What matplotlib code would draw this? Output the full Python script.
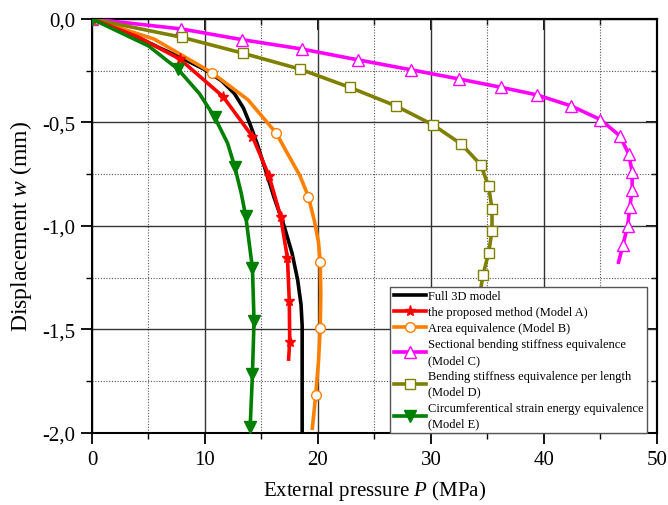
import matplotlib
matplotlib.use('Agg')
import matplotlib.pyplot as plt
from matplotlib.ticker import MultipleLocator, FuncFormatter

plt.rcParams['font.family'] = ['Liberation Serif', 'DejaVu Serif']
plt.rcParams['mathtext.fontset'] = 'custom'
plt.rcParams['mathtext.rm'] = 'Liberation Serif'
plt.rcParams['mathtext.it'] = 'Liberation Serif:italic'

# Full 3D model (no markers)
p_full = [0, 3, 6, 8, 10, 11.5, 12.6, 13.4, 14.0, 14.6, 15.3, 16.1, 17.0, 17.7, 18.2, 18.5, 18.6, 18.6]
w_full = [0, -0.06, -0.14, -0.19, -0.245, -0.30, -0.36, -0.43, -0.51, -0.60, -0.72, -0.86, -1.0, -1.13,
          -1.26, -1.38, -1.48, -2.0]

# Model A
p_a = [0, 4.0, 7.76, 11.6, 14.2, 15.66, 16.7, 17.3, 17.46, 17.5, 17.4]
w_a = [0, -0.085, -0.193, -0.375, -0.568, -0.757, -0.955, -1.156, -1.36, -1.559, -1.643]
mk_a = [0, 2, 3, 4, 5, 6, 7, 8, 9]

# Model B
p_b = [0, 5.5, 10.65, 13.8, 16.3, 17.08, 18.4, 19.15, 19.7, 20.05, 20.2, 20.25, 20.2, 20.05, 19.8, 19.5]
w_b = [0, -0.097, -0.261, -0.39, -0.551, -0.628, -0.757, -0.858, -0.98, -1.08, -1.176, -1.33,
       -1.494, -1.65, -1.816, -1.977]
mk_b = [0, 2, 4, 7, 10, 12, 14]

# Model C
p_c = [0, 7.9, 13.3, 18.56, 23.5, 28.2, 32.5, 36.2, 39.4, 42.4, 45.0, 46.7, 47.5, 47.8, 47.8, 47.6,
       47.4, 47.0, 46.6]
w_c = [0, -0.048, -0.10, -0.145, -0.197, -0.245, -0.29, -0.33, -0.367, -0.42, -0.486, -0.564, -0.652,
       -0.738, -0.825, -0.91, -1.0, -1.09, -1.175]
mk_c = list(range(18))

# Model D
p_d = [0, 8.0, 13.4, 18.4, 22.8, 26.9, 30.2, 32.7, 34.4, 35.1, 35.4, 35.4, 35.1, 34.6, 34.3, 34.1,
       34.0, 33.9, 33.9]
w_d = [0, -0.089, -0.166, -0.242, -0.33, -0.42, -0.512, -0.605, -0.704, -0.808, -0.918, -1.024, -1.13,
       -1.237, -1.34, -1.45, -1.6, -1.8, -1.95]
mk_d = list(range(14))

# Model E
p_e = [0, 5.0, 7.6, 9.5, 10.86, 12.0, 12.65, 13.2, 13.6, 14.2, 14.34, 14.2, 14.0]
w_e = [0, -0.13, -0.242, -0.36, -0.475, -0.6, -0.717, -0.84, -0.95, -1.204, -1.457, -1.715, -1.97]
mk_e = [0, 2, 4, 6, 8, 9, 10, 11, 12]

fig = plt.figure(figsize=(6.68, 5.06), dpi=100)
ax = fig.add_axes([0.1377, 0.1423, 0.8458, 0.8182])

lw = 2.6
ax.plot(p_full, w_full, color='black', lw=lw, label='Full 3D model', zorder=3)
ax.plot(p_a, w_a, color='#ff0000', lw=lw, marker='*', ms=8, markevery=mk_a,
        label='the proposed method (Model A)', zorder=4)
ax.plot(p_b, w_b, color='#ff7f00', lw=lw, marker='o', ms=7, mfc='white', mew=1.0, markevery=mk_b,
        label='Area equivalence (Model B)', zorder=3)
ax.plot(p_c, w_c, color='#ff00ff', lw=lw, marker='^', ms=9, mfc='white', mew=1.0, markevery=mk_c,
        label='Sectional bending stiffness equivalence\n(Model C)', zorder=3)
ax.plot(p_d, w_d, color='#808000', lw=lw, marker='s', ms=6.5, mfc='white', mew=1.0, markevery=mk_d,
        label='Bending stiffness equivalence per length\n(Model D)', zorder=3)
ax.plot(p_e, w_e, color='#008000', lw=lw, marker='v', ms=8, markevery=mk_e,
        label='Circumferentical strain energy equivalence\n(Model E)', zorder=4)

ax.set_xlim(0, 50)
ax.set_ylim(-2.0, 0.0)
ax.xaxis.set_major_locator(MultipleLocator(10))
ax.xaxis.set_minor_locator(MultipleLocator(5))
ax.yaxis.set_major_locator(MultipleLocator(0.5))
ax.yaxis.set_minor_locator(MultipleLocator(0.25))
ax.yaxis.set_major_formatter(FuncFormatter(lambda v, p: ('%.1f' % v).replace('.', ',')))

ax.grid(which='major', color='#333333', lw=1.0, ls='-')
ax.grid(which='minor', color='#555555', lw=0.8, ls=(0, (1, 1.5)))
ax.set_axisbelow(True)

for s in ax.spines.values():
    s.set_linewidth(1.5)
ax.tick_params(which='major', direction='out', length=8, width=1.3, labelsize=15, pad=4)
ax.tick_params(which='minor', direction='out', length=4, width=1.0)

# inward ticks on top and right
top = ax.secondary_xaxis('top')
top.xaxis.set_major_locator(MultipleLocator(10))
top.xaxis.set_minor_locator(MultipleLocator(5))
top.tick_params(which='major', direction='in', length=8, width=1.3, labeltop=False)
top.tick_params(which='minor', direction='in', length=4, width=1.0)
right = ax.secondary_yaxis('right')
right.yaxis.set_major_locator(MultipleLocator(0.5))
right.yaxis.set_minor_locator(MultipleLocator(0.25))
right.tick_params(which='major', direction='in', length=8, width=1.3, labelright=False)
right.tick_params(which='minor', direction='in', length=4, width=1.0)
for s in list(top.spines.values()) + list(right.spines.values()):
    s.set_linewidth(1.5)

ax.set_xlabel('External pressure $P$ (MPa)', fontsize=15, labelpad=7)
ax.set_ylabel('Displacement $w$ (mm)', fontsize=17, labelpad=6)

leg = ax.legend(loc='lower right', bbox_to_anchor=(0.982, 0.0), borderaxespad=0, fontsize=9.0,
                frameon=True, fancybox=False, edgecolor='#555555', framealpha=1,
                handlelength=2.6, handletextpad=0.1, labelspacing=0.32, borderpad=0.3,
                numpoints=1)
for t in leg.get_texts():
    t.set_linespacing(1.4)
leg.get_frame().set_linewidth(1.0)
leg.set_zorder(10)

fig.savefig('out.png', dpi=100)
